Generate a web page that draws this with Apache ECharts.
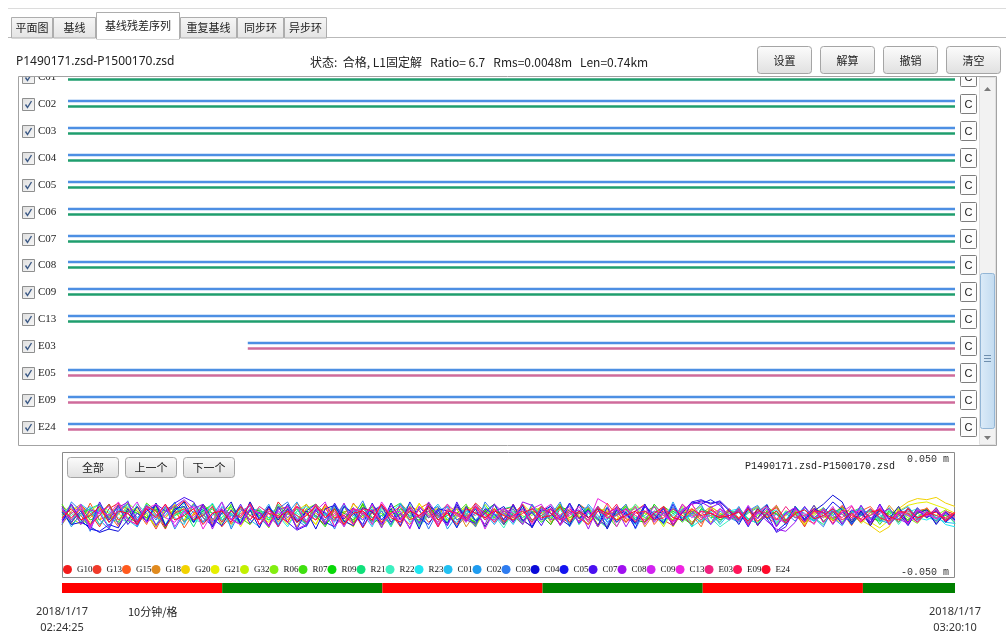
<!DOCTYPE html>
<html>
<head>
<meta charset="utf-8">
<script src="https://cdn.jsdelivr.net/npm/echarts@6/dist/echarts.min.js"></script>
<style>
  html, body { margin: 0; padding: 0; background: #fff; }
  #chart { width: 1006px; height: 640px; }
</style>
</head>
<body>
<div id="chart"></div>
<script>
const FILE_PAIR   = 'P1490171.zsd-P1500170.zsd';
const STATUS      = '状态:  合格, L1固定解   Ratio= 6.7   Rms=0.0048m   Len=0.74km';
const TABS        = ['平面图', '基线', '基线残差序列', '重复基线', '同步环', '异步环'];
const ACTIVE_TAB  = 2;
const TOP_BUTTONS = ['设置', '解算', '撤销', '清空'];
const NAV_BUTTONS = ['全部', '上一个', '下一个'];
const START_TIME  = '2018/1/17 02:24:25';
const END_TIME    = '2018/1/17 03:20:10';
const SESSION_MIN = 55.75;
const GRID_LABEL  = '10分钟/格';

// tracking rows (minutes since session start)
const TRACK_SATS  = ['C01', 'C02', 'C03', 'C04', 'C05', 'C06', 'C07', 'C08', 'C09', 'C13', 'E03', 'E05', 'E09', 'E24'];
const TRACK_START = [0, 0, 0, 0, 0, 0, 0, 0, 0, 0, 11.3, 0, 0, 0];
const TRACK_END   = [55.75, 55.75, 55.75, 55.75, 55.75, 55.75, 55.75, 55.75, 55.75, 55.75, 55.75, 55.75, 55.75, 55.75];

// status bar under the residual plot, 10 min blocks
const BLOCK_START = [0, 10, 20, 30, 40, 50];
const BLOCK_END   = [10, 20, 30, 40, 50, 55.75];
const BLOCK_OK    = [0, 1, 0, 1, 0, 1];

// residual series, mm
const RES_SATS   = ['G10', 'G13', 'G15', 'G18', 'G20', 'G21', 'G32', 'R06', 'R07', 'R09', 'R21', 'R22', 'R23',
                    'C01', 'C02', 'C03', 'C04', 'C05', 'C07', 'C08', 'C09', 'C13', 'E03', 'E09', 'E24'];
const RES_COLORS = ['#f21c1c', '#f03a2a', '#ff5a1e', '#e08a1e', '#f2d200', '#e6ef00', '#c2f000', '#82ee10', '#3fe010', '#08d808', '#10e07a', '#3cf0c0', '#1ee6f0',
                    '#22c0f2', '#1f9cf0', '#2e7cf0', '#0a0ad8', '#1414f0', '#4a10f0', '#a010f0', '#d224f0', '#f024e0', '#f02280', '#ff1458', '#ff0a2a'];
const RES = {
  G10: [5,-7,9,2,-10,6,11,-4,-8,10,1,-12,6,13,2,-6,8,-10,0,7,-4,5,-9,12,
        2,-6,10,-1,-8,6,-3,4,-11,3,8,-6,1,7,-9,10,-2,4,-10,0,11,3,-6,5,
        8,-4,-10,3,6,-1,-7,10,4,-8,2,7,-3,-6,9,0,4,-5,10,2,-7,5,-1,6,
        -3,7,-8,1,9,-5,3,-10,6,0,-4,8,-2,5,-9,4,1,-6,7,-3,2,-5,4,1],
  G13: [-4,8,0,-10,5,-2,10,6,-6,2,-12,4,9,-5,0,10,-8,4,2,-7,12,-3,6,-4,
        1,8,-9,4,6,-3,-8,11,0,-5,7,2,-10,8,4,-6,1,10,-4,2,-9,6,-1,-3,
        10,-6,4,0,-8,6,2,-5,8,-10,4,1,6,-7,3,8,-4,-9,4,10,-2,0,-6,5,
        -2,6,-9,3,1,-5,8,-3,-7,5,0,9,-4,2,-6,7,-1,3,-8,4,6,-3,1,-2],
  G15: [8,2,-6,11,-4,1,-10,6,4,-8,10,-2,6,-11,2,8,-5,4,-7,0,10,-8,4,2,
        -6,11,1,-4,8,-10,3,6,-2,10,-6,4,0,-8,6,11,-4,2,-10,4,8,-2,6,-5,
        1,10,-6,4,-2,8,-8,2,6,-4,11,0,-6,4,10,-8,2,-4,6,1,-10,8,2,-3,
        5,-7,3,9,-4,0,7,-8,2,6,-5,3,-9,4,8,-2,-6,5,1,-4,7,-3,0,2],
  G18: [-8,4,10,-2,6,-6,1,11,-4,2,-10,8,4,-6,10,0,-4,6,-8,2,4,-2,8,-6,
        4,-10,6,2,-4,8,0,-6,10,-2,4,-8,11,2,-6,0,8,-4,6,-10,2,4,-2,1,
        6,-4,2,8,-6,0,10,-2,-8,4,6,-4,0,8,-10,2,6,-2,4,-6,1,8,-4,2,
        -5,3,8,-2,-7,4,1,-9,6,2,-3,7,-6,0,5,-4,9,-1,-5,3,6,-7,2,0],
  G20: [2,-6,8,0,-4,10,-8,4,6,-2,1,-10,8,4,-6,2,10,-4,0,6,-8,4,-2,8,
        -4,6,1,-8,10,2,-6,4,-2,8,-10,0,6,-4,11,-2,4,-6,1,8,-4,2,6,-8,
        4,0,-6,8,-2,10,-4,2,6,-8,1,4,-6,10,2,-4,8,-10,3,6,-2,0,-6,4,
        -3,5,-6,2,7,-4,1,-5,3,6,-2,-7,2,-4,-9,-15,-10,6,12,15,14,16,11,8],
  G21: [-2,8,4,-6,0,10,-4,6,-8,2,4,-2,10,-6,1,8,-4,2,6,-10,4,0,-6,8,
        6,-4,2,-8,8,0,-6,10,4,-2,-8,6,2,-4,10,1,-6,4,8,-2,-10,4,0,6,
        -4,10,2,-6,4,8,-2,0,-8,6,4,-4,10,-6,2,0,-8,6,-2,4,8,-6,1,3,
        4,-6,2,7,-3,0,5,-8,3,-2,6,1,-5,3,-6,-11,-4,4,9,11,12,9,6,2],
  G32: [6,-2,-8,4,10,-4,2,-6,8,0,-10,6,2,-4,11,-2,-6,4,8,-8,0,6,-4,2,
        -8,4,10,-2,1,6,-4,-10,8,2,-6,4,0,10,-8,2,6,-4,-2,8,4,-10,6,0,
        2,-6,8,4,-4,0,10,-8,2,6,-2,-6,4,8,-4,2,-10,6,0,4,-6,8,2,-4,
        7,-3,0,5,-8,4,2,-6,9,-1,-4,6,3,-7,1,5,-3,8,-5,2,-2,4,-6,3],
  R06: [1,10,-4,-8,6,2,-6,11,4,-2,8,-10,0,6,-4,10,2,-8,4,-2,6,0,-11,8,
        2,-4,6,10,-8,0,4,-6,11,-2,2,-8,6,4,-10,8,0,-4,6,2,-8,10,-2,4,
        -6,4,0,8,-4,10,-8,2,6,-2,-10,4,8,0,-6,4,2,-4,8,-8,6,0,-2,4,
        3,-7,5,-1,8,-4,2,-6,0,7,-3,5,-8,2,4,-5,1,6,-2,-7,3,0,5,-3],
  R07: [10,-4,2,6,-8,0,8,-2,-6,11,4,-10,2,8,-4,0,6,-6,10,-2,-8,4,2,-4,
        6,0,-8,10,2,-4,8,-6,0,4,-10,6,11,-2,-4,8,0,-6,2,10,-8,4,-2,6,
        0,-8,6,2,-4,10,-2,4,-6,8,0,-10,4,6,-2,-4,8,2,-6,4,0,-8,6,-2,
        -4,6,-2,8,1,-7,4,-3,6,-5,2,7,-6,0,4,-8,3,1,-4,6,-2,5,-3,1],
  R09: [-6,2,8,-4,0,10,-8,4,2,-2,6,-11,8,0,-6,4,10,-4,2,-8,6,4,-2,0,
        8,-6,4,0,-10,6,2,-4,10,-8,0,4,-2,6,-6,11,-4,0,8,-2,-6,4,10,-8,
        2,6,-4,0,-8,8,4,-2,6,-10,2,0,8,-4,-6,10,0,4,-2,-8,6,2,-4,0,
        5,-3,-7,4,2,-5,8,-1,-4,6,0,-6,3,7,-2,-5,4,1,-6,3,5,-2,0,-4],
  R21: [4,-8,0,6,10,-2,-6,8,2,-4,11,-8,0,4,-10,6,2,-2,8,-6,4,0,-4,10,
        -2,6,-8,4,0,10,-6,2,-4,8,4,-10,6,0,-2,8,-8,4,2,-6,10,0,-4,6,
        8,-2,4,-6,0,6,-8,10,2,-4,-11,4,6,-2,0,8,-6,2,4,-10,6,-2,0,4,
        -5,2,7,-3,4,-6,1,5,-2,-8,3,6,-4,0,5,-3,7,-6,2,-1,4,-5,2,-7],
  R22: [-4,0,6,-10,8,4,-2,-6,10,2,-8,4,0,11,-4,-6,8,2,-10,6,0,4,-2,-8,
        6,2,-4,8,-6,0,10,-2,4,-8,6,-4,2,10,-10,0,4,-6,8,2,-4,6,0,-11,
        4,-6,10,0,-2,6,-8,4,2,-4,8,-6,0,10,-2,4,-8,6,-4,0,8,-2,-10,-4,
        3,-5,6,1,-7,4,-2,8,-4,0,5,-6,2,7,-3,-1,5,-8,3,6,-2,-4,1,-5],
  R23: [2,8,-6,0,4,-10,6,2,-4,10,-2,-8,6,4,-6,0,11,-4,2,-8,4,6,-2,0,
        -10,4,8,-2,2,-6,10,0,-4,6,-8,2,11,-6,0,4,-2,8,-10,2,6,-4,0,4,
        -2,8,-6,4,0,-4,10,-8,2,6,-6,0,4,-8,8,2,-4,0,6,-10,-4,2,-6,4,
        6,-3,-7,2,5,-4,8,-1,-5,3,0,6,-8,2,4,-6,1,-3,5,-2,-4,0,-8,-10],
  C01: [0,-6,10,4,-8,2,6,-4,-10,8,0,6,-2,-8,10,4,-6,2,0,8,-4,-10,6,2,
        4,-2,-8,6,0,10,-6,4,2,-10,8,0,-4,6,-8,2,10,-2,-6,4,0,8,-4,2,
        -8,6,2,-4,10,0,-6,4,8,-2,-4,6,0,-8,10,-4,2,6,-2,0,-6,4,-8,2,
        5,-4,1,7,-6,3,-2,8,-5,0,4,-7,2,6,-3,1,-8,4,0,-5,3,-2,-6,-7],
  C02: [6,-10,2,8,-4,-12,4,10,-2,6,-8,0,12,-6,4,2,-10,8,0,-4,6,-2,10,-8,
        2,12,-6,0,-4,8,-10,4,6,-2,0,-8,10,2,-6,4,8,-12,0,6,-4,2,-8,4,
        0,6,-10,8,2,-4,4,-6,10,0,-8,2,6,-4,8,-2,-6,12,-4,2,0,-8,4,-2,
        -6,4,9,-3,1,-8,5,2,-5,7,-2,-9,4,0,6,-4,-7,3,8,-2,1,-5,3,-4],
  C03: [-8,12,4,-14,10,-6,2,13,-10,6,-4,8,-12,2,10,-6,0,12,-12,4,8,-2,-10,6,
        12,-4,-10,6,2,-12,8,0,13,-6,4,-8,10,-2,6,-12,4,8,-4,0,-10,12,2,-6,
        6,-8,10,-4,0,12,-10,4,-2,8,-6,2,10,-12,4,0,-6,8,-4,2,10,-8,0,-4,
        8,-6,3,10,-9,2,-5,7,-2,-10,6,1,-7,9,-3,5,-8,0,6,-4,3,-7,2,-3],
  C04: [3,-8,-6,-10,-15,-12,-14,-4,8,-6,11,-9,4,12,-6,8,-10,2,12,-8,5,-11,8,-4,
        10,-6,4,-12,6,9,-5,-9,7,3,-8,11,-4,6,-12,9,2,-7,10,-5,6,-10,3,8,
        -6,9,-11,4,8,-3,-9,10,-2,6,-12,5,1,-7,10,-4,6,-9,3,10,13,11,12,4,
        -8,6,-3,9,-10,2,7,-5,4,10,18,12,-6,4,-9,6,-3,8,-7,2,5,-8,3,-4],
  C05: [-6,10,-4,-12,-14,-8,-11,6,-8,4,9,-10,6,8,-6,10,-3,-9,5,-7,12,-4,8,-10,
        6,-12,4,10,-6,-10,8,2,-8,11,-4,6,-9,12,-2,-8,6,4,-11,8,-5,2,10,-4,
        9,-4,-10,6,2,-8,11,-3,5,-9,7,-6,3,-11,8,1,-7,10,-5,12,10,14,9,-2,
        4,-10,6,-3,-14,-7,8,-4,6,2,12,5,-8,3,-6,10,-4,2,-9,5,-2,7,-6,1],
  C07: [8,-6,4,-10,12,-4,9,-8,2,-5,10,4,11,16,12,-2,-9,6,-4,10,-7,3,-10,8,
        -6,-13,-9,5,-8,11,-3,7,-10,4,9,-6,2,-11,8,-2,5,-9,12,-4,-7,6,1,-8,
        10,-5,3,-9,6,-2,11,-7,4,-3,-10,8,2,-6,9,-4,7,-8,3,12,14,10,13,5,
        -4,8,-9,2,-15,-10,6,-3,9,-6,4,-8,5,1,-7,10,-4,3,-6,7,-2,4,-5,2],
  C08: [-4,10,-8,5,2,-11,7,12,-5,9,-9,3,8,14,6,10,-12,5,-3,-8,6,2,-9,5,
        8,-12,-8,6,3,-5,11,-8,2,5,-11,9,-3,6,-7,12,0,-9,8,-5,3,-8,10,2,
        -6,12,9,-4,6,-9,2,5,-12,8,-3,6,-10,4,9,-6,3,-8,5,10,12,7,11,-3,
        6,-9,3,-5,-12,-14,-6,8,-2,5,-8,3,-4,9,-6,2,6,-3,-7,4,-1,5,-4,2],
  C09: [6,-4,10,-12,4,8,-8,2,12,-6,0,10,-10,4,-2,8,-6,12,-4,-8,6,2,-10,4,
        -2,8,-6,4,12,-10,0,6,-4,10,-8,2,4,-12,8,0,-6,10,2,-4,8,-12,4,6,
        2,-8,6,10,-4,0,8,-6,4,-10,2,6,-2,8,-8,4,0,-6,10,-2,4,-8,6,0,
        -5,9,-3,6,-10,2,7,-6,4,-2,8,-7,1,5,-4,9,-8,3,0,-6,4,-3,2,-5],
  C13: [-6,2,8,-10,4,0,12,-4,-8,6,10,-2,-6,4,8,-12,2,6,-4,0,10,-8,4,-2,
        8,-4,0,10,-6,2,-10,6,4,-8,12,0,-4,6,-2,10,-8,4,2,-6,10,-2,-4,6,
        -2,6,-8,4,10,-4,0,8,-6,15,10,-10,6,0,-4,8,2,-6,4,10,-2,0,6,-4,
        4,-7,2,8,-3,-6,5,1,-8,6,-2,3,9,-5,0,6,-4,2,-7,5,1,-3,4,-2],
  E03: [null,null,null,null,null,null,null,null,null,null,null,null,null,null,null,null,null,null,null,6,-4,8,2,-10,
        4,0,-6,10,-2,4,-8,6,2,-4,10,0,-6,8,-2,4,-10,6,0,-4,8,2,-6,4,
        -2,10,-4,0,6,-8,4,2,-4,8,-2,0,6,-6,4,-2,8,-8,2,4,-4,6,0,-2,
        6,-8,4,2,-4,8,-2,0,6,-6,4,-2,8,-4,0,6,-8,2,4,-2,0,6,-4,2],
  E09: [4,-2,6,-8,0,10,-4,2,-6,8,4,-10,2,6,-4,0,8,-6,4,-2,10,-8,2,0,
        -6,8,2,-4,10,-2,0,-8,6,4,-6,2,8,-4,0,6,-10,4,2,-2,8,-4,6,-6,
        0,4,-6,8,2,-4,6,-2,-8,4,0,10,-6,2,4,-4,-2,6,0,-8,4,2,-2,4,
        -3,6,-5,2,7,-4,1,-6,4,3,-7,5,0,-3,6,-2,-5,4,2,-6,3,0,-2,3],
  E24: [-2,6,-4,0,8,-6,4,2,-8,6,-2,10,-4,0,6,-8,2,4,-6,8,0,-4,6,-2,
        4,-6,0,8,-2,6,-8,2,4,-4,10,-2,-6,4,0,8,-4,2,-8,6,2,-2,4,0,
        -4,2,6,-2,0,8,-6,4,-2,6,2,-4,0,4,-6,2,8,-2,-4,6,0,2,-2,0,
        3,-5,6,-2,4,-7,2,5,-3,0,6,-4,2,-6,3,5,-1,-4,6,-2,1,3,-5,2]
};
const RES_MIN = -50, RES_MAX = 50;

const BLUE = '#4d8fe3', GREEN = '#1f9e6e', PINK = '#cf6b9b';
const UI_FONT = '"Noto Sans CJK SC", "Noto Sans", sans-serif';

const EPOCHS = Array.from({ length: Math.max(...RES_SATS.map((s) => RES[s].length)) }, (_, i) => i);

// top panel x mapping: session spans x 68..955, grid spans 18..978
const TOP_L = 18, TOP_R = 978, LINE_L = 68, LINE_R = 955;
const PX_PER_MIN = (LINE_R - LINE_L) / SESSION_MIN;

function btnFill() {
  return { type: 'linear', x: 0, y: 0, x2: 0, y2: 1,
    colorStops: [{ offset: 0, color: '#fcfcfc' }, { offset: 1, color: '#e0e0e0' }] };
}

function button(x, y, w, h, text) {
  return {
    type: 'group', x, y, z: 20,
    children: [
      { type: 'rect', shape: { x: 0.5, y: 0.5, width: w, height: h, r: 3 },
        style: { fill: btnFill(), stroke: '#a5a5a5', lineWidth: 1 } },
      { type: 'text', x: w / 2 + 0.5, y: h / 2 + 1,
        style: { text, fill: '#222', font: '11px ' + UI_FONT, align: 'center', verticalAlign: 'middle' } },
    ],
  };
}

function buildGraphics() {
  const g = [];
  // tab strip
  g.push({ type: 'line', shape: { x1: 8, y1: 8.5, x2: 1006, y2: 8.5 }, style: { stroke: '#dcdcdc' } });
  g.push({ type: 'line', shape: { x1: 8, y1: 37.5, x2: 1006, y2: 37.5 }, style: { stroke: '#b9b9b9' } });
  const tabX = [11, 53, 96, 180, 237, 284, 327];
  TABS.forEach((t, i) => {
    const active = i === ACTIVE_TAB;
    const x0 = tabX[i], x1 = tabX[i + 1] - 1;
    const y0 = active ? 12 : 17, y1 = active ? 38.5 : 37.5;
    g.push({ type: 'rect', z: active ? 6 : 5,
      shape: { x: x0 + 0.5, y: y0 + 0.5, width: x1 - x0, height: y1 - y0 },
      style: { fill: active ? '#ffffff' : { type: 'linear', x: 0, y: 0, x2: 0, y2: 1,
        colorStops: [{ offset: 0, color: '#f6f6f6' }, { offset: 1, color: '#e4e4e4' }] },
        stroke: '#adadad', lineWidth: 1 } });
    g.push({ type: 'text', z: 7, x: (x0 + x1) / 2 + 0.5, y: (y0 + 37) / 2 + 1,
      style: { text: t, fill: '#222', font: '11px ' + UI_FONT, align: 'center', verticalAlign: 'middle' } });
  });
  g.push({ type: 'rect', z: 7, shape: { x: 97, y: 37, width: 82, height: 2 }, style: { fill: '#fff' } });

  // header
  g.push({ type: 'text', x: 16, y: 62, style: { text: FILE_PAIR, fill: '#222', font: '12px "Noto Sans", sans-serif', verticalAlign: 'middle' } });
  g.push({ type: 'text', x: 310, y: 62, style: { text: STATUS, fill: '#222', font: '12px ' + UI_FONT, verticalAlign: 'middle' } });
  const tbX = [757, 820, 883, 946];
  TOP_BUTTONS.forEach((t, i) => g.push(button(tbX[i], 46, 54, 27, t)));

  // top panel frame + scrollbar
  g.push({ type: 'rect', z: 15, shape: { x: 18.5, y: 76.5, width: 978, height: 369 },
    style: { fill: 'none', stroke: '#a3a3a3', lineWidth: 1 } });
  g.push({ type: 'rect', z: 16, shape: { x: 979.5, y: 77.5, width: 16, height: 367 },
    style: { fill: '#f2f2f2', stroke: '#e0e0e0' } });
  g.push({ type: 'polygon', z: 17, shape: { points: [[984, 91], [991, 91], [987.5, 87]] }, style: { fill: '#7a7a7a' } });
  g.push({ type: 'polygon', z: 17, shape: { points: [[984, 436], [991, 436], [987.5, 440]] }, style: { fill: '#7a7a7a' } });
  g.push({ type: 'rect', z: 17, shape: { x: 980.5, y: 273.5, width: 14, height: 155, r: 2 },
    style: { fill: { type: 'linear', x: 0, y: 0, x2: 1, y2: 0,
      colorStops: [{ offset: 0, color: '#dcebf8' }, { offset: 1, color: '#c2dbf0' }] }, stroke: '#93b6d6' } });
  [355, 358, 361].forEach((yy) => g.push({ type: 'line', z: 18,
    shape: { x1: 984, y1: yy + 0.5, x2: 991, y2: yy + 0.5 }, style: { stroke: '#6f8fae' } }));

  // residual panel frame + nav buttons
  g.push({ type: 'rect', shape: { x: 62.5, y: 452.5, width: 892, height: 125 },
    style: { fill: 'none', stroke: '#8a8a8a', lineWidth: 1 } });
  const nbX = [67, 125, 183];
  NAV_BUTTONS.forEach((t, i) => g.push(button(nbX[i], 457, 51, 20, t)));

  g.push({ type: 'text', x: 128, y: 612, style: { text: GRID_LABEL, fill: '#222', font: '11px ' + UI_FONT, verticalAlign: 'middle' } });
  return g;
}

function renderTrack(params, api) {
  const row = api.value(0);
  const p0 = api.coord([api.value(1), row]);
  const p1 = api.coord([api.value(2), row]);
  const cs = params.coordSys;
  const y = Math.round(p0[1]);
  const sat = TRACK_SATS[row];
  const second = sat[0] === 'E' ? PINK : GREEN;
  const bx = cs.x + 4, by = y - 6;
  const cx = cs.x + cs.width - 18;
  return {
    type: 'group',
    children: [
      { type: 'line', shape: { x1: p0[0], y1: y - 3, x2: p1[0], y2: y - 3 }, style: { stroke: BLUE, lineWidth: 2.5 } },
      { type: 'line', shape: { x1: p0[0], y1: y + 2.5, x2: p1[0], y2: y + 2.5 }, style: { stroke: second, lineWidth: 2.5 } },
      { type: 'rect', shape: { x: bx + 0.5, y: by + 0.5, width: 12, height: 12 },
        style: { fill: { type: 'linear', x: 0, y: 0, x2: 1, y2: 1,
          colorStops: [{ offset: 0, color: '#dedede' }, { offset: 1, color: '#f7f7f7' }] }, stroke: '#8e8f8f' } },
      { type: 'polyline', shape: { points: [[bx + 3.5, by + 6.5], [bx + 5.5, by + 9.5], [bx + 9.5, by + 3]] },
        style: { stroke: '#3c5a86', lineWidth: 1.4, fill: 'none' } },
      { type: 'text', x: cs.x + 20, y: y + 0.5,
        style: { text: sat, fill: '#222', font: '11px "Liberation Serif", serif', verticalAlign: 'middle' } },
      { type: 'rect', shape: { x: cx + 0.5, y: y - 9.5, width: 16, height: 19, r: 1 },
        style: { fill: '#fdfdfd', stroke: '#7d7d7d' } },
      { type: 'text', x: cx + 8.5, y: y + 0.5,
        style: { text: 'C', fill: '#222', font: '11px "Liberation Sans", sans-serif', align: 'center', verticalAlign: 'middle' } },
    ],
  };
}

function renderBlock(params, api) {
  const p0 = api.coord([api.value(0), 0]);
  const p1 = api.coord([api.value(1), 0]);
  const cs = params.coordSys;
  return { type: 'rect', shape: { x: p0[0], y: cs.y, width: p1[0] - p0[0], height: cs.height },
    style: { fill: api.value(2) ? '#008000' : '#ff0000' } };
}

const [startDate, startClock] = START_TIME.split(' ');
const [endDate, endClock] = END_TIME.split(' ');

const option = {
  backgroundColor: '#ffffff',
  animation: false,
  graphic: buildGraphics(),
  title: {
    text: FILE_PAIR, right: 106, top: 456,
    textStyle: { fontFamily: '"Liberation Mono", monospace', fontSize: 10, fontWeight: 'normal', color: '#222' },
  },
  legend: {
    data: RES_SATS, icon: 'circle', left: 63, top: 565, padding: 0,
    itemWidth: 9, itemHeight: 9, itemGap: 0, selectedMode: false,
    textStyle: { fontFamily: '"Liberation Serif", serif', fontSize: 9, color: '#111' },
  },
  grid: [
    { left: TOP_L, right: 1006 - TOP_R, top: 76, height: 370 },
    { left: 62, right: 51, top: 459, bottom: 68 },
    { left: 62, right: 51, top: 583, height: 10 },
  ],
  xAxis: [
    { gridIndex: 0, type: 'value', show: false,
      min: -(LINE_L - TOP_L) / PX_PER_MIN, max: SESSION_MIN + (TOP_R - LINE_R) / PX_PER_MIN },
    { gridIndex: 1, type: 'category', data: EPOCHS, boundaryGap: false, show: false },
    { gridIndex: 2, type: 'value', min: 0, max: SESSION_MIN, interval: 10,
      axisLine: { show: false }, axisTick: { show: false }, splitLine: { show: false },
      axisLabel: {
        showMinLabel: true, showMaxLabel: true, margin: 11, hideOverlap: false,
        color: '#333', fontFamily: '"Noto Sans", sans-serif', fontSize: 11, lineHeight: 16,
        formatter: (v) => v === 0 ? startDate + '\n' + startClock : (v === SESSION_MIN ? endDate + '\n' + endClock : ''),
      } },
  ],
  yAxis: [
    { gridIndex: 0, type: 'value', inverse: true, show: false, min: -0.04, max: 13.71 },
    { gridIndex: 1, type: 'value', position: 'right', min: RES_MIN, max: RES_MAX, interval: 50,
      axisLine: { show: false }, axisTick: { show: false }, splitLine: { show: false },
      axisLabel: { inside: true, margin: 6, color: '#333', fontFamily: '"Liberation Mono", monospace', fontSize: 10,
        formatter: (v) => v === 0 ? '' : (v / 1000).toFixed(3) + ' m' } },
    { gridIndex: 2, type: 'value', show: false, min: 0, max: 1 },
  ],
  series: [
    {
      type: 'custom', xAxisIndex: 0, yAxisIndex: 0, clip: true, silent: true,
      renderItem: renderTrack, encode: { x: [1, 2], y: 0 },
      data: TRACK_SATS.map((s, i) => [i, TRACK_START[i], TRACK_END[i]]),
    },
    ...RES_SATS.map((s, i) => ({
      name: s, type: 'line', xAxisIndex: 1, yAxisIndex: 1,
      data: RES[s], showSymbol: false, symbol: 'circle', silent: true,
      lineStyle: { width: 1, color: RES_COLORS[i] }, itemStyle: { color: RES_COLORS[i] },
      emphasis: { disabled: true },
    })),
    {
      type: 'custom', xAxisIndex: 2, yAxisIndex: 2, silent: true,
      renderItem: renderBlock, encode: { x: [0, 1] },
      data: BLOCK_START.map((s, i) => [s, BLOCK_END[i], BLOCK_OK[i]]),
    },
  ],
};

const chart = echarts.init(document.getElementById('chart'), null, { renderer: 'canvas' });
chart.setOption(option);
</script>
</body>
</html>
